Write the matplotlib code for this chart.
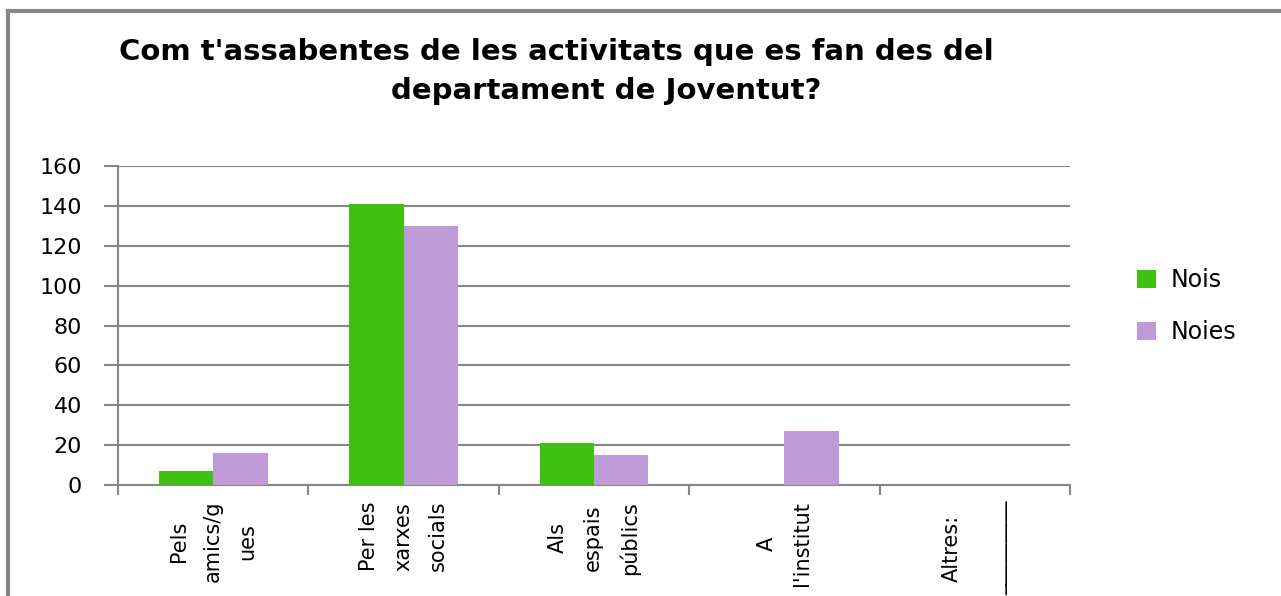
import matplotlib
matplotlib.use("Agg")
import matplotlib.pyplot as plt
from matplotlib.lines import Line2D
import numpy as np

categories = ["Pels\namics/g\nues", "Per les\nxarxes\nsocials", "Als\nespais\npúblics",
              "A\nl'institut", "Altres:\n" + "_" * 9]
nois = [7, 141, 21, 0, 0]
noies = [16, 130, 15, 27, 0]
yticks = [0, 20, 40, 60, 80, 100, 120, 140, 160]
title1 = "Com t'assabentes de les activitats que es fan des del"
title2 = "departament de Joventut?"

W, H = 1281, 596
fig = plt.figure(figsize=(W / 100, H / 100), dpi=100)
fig.patch.set_facecolor("white")
ax = fig.add_axes([118 / W, 1 - 485 / H, (1070 - 118) / W, (485 - 166) / H])

green = "#3EC111"
purple = "#BE9BD6"
grey = "#868686"

x = np.arange(len(categories))
bw = 0.286
ax.bar(x - bw / 2, nois, bw, color=green, label="Nois", zorder=3)
ax.bar(x + bw / 2, noies, bw, color=purple, label="Noies", zorder=3)

ax.set_xlim(-0.5, len(categories) - 0.5)
ax.set_ylim(0, 160)
ax.set_yticks(yticks)
ax.yaxis.grid(True, color=grey, linewidth=1.5, zorder=0)
ax.set_axisbelow(True)
for s in ["top", "right"]:
    ax.spines[s].set_visible(False)
for s in ["left", "bottom"]:
    ax.spines[s].set_color(grey)
    ax.spines[s].set_linewidth(1.5)

ax.tick_params(axis="y", direction="out", length=10, color=grey, width=1.5,
               labelsize=16, pad=16, labelcolor="black")
ax.set_xticks(np.arange(len(categories) + 1) - 0.5)
ax.set_xticklabels([])
ax.tick_params(axis="x", direction="out", length=7, color=grey, width=1.5)

for xi, lab in zip(x, categories):
    ls = 2.6 if lab.startswith("Altres") else 1.9
    ax.text(xi, -8, lab, rotation=90, ha="center", va="top", multialignment="center",
            fontsize=15, linespacing=ls, transform=ax.transData,
            family="DejaVu Sans", clip_on=False)

for t in ax.get_yticklabels():
    t.set_family("DejaVu Sans")

fig.text(556 / W, 1 - 52 / H, title1, ha="center", va="center", fontsize=21,
         fontweight="bold", family="DejaVu Sans")
fig.text(606 / W, 1 - 91 / H, title2, ha="center", va="center", fontsize=21,
         fontweight="bold", family="DejaVu Sans")

leg = fig.legend(loc="center left", bbox_to_anchor=(1116 / W, 1 - 306 / H), frameon=False,
                 fontsize=17, handlelength=0.8, handleheight=0.8, labelspacing=1.2,
                 handletextpad=0.6)

fig.add_artist(Line2D([8 / W, 8 / W], [0, 1 - 11 / H], color=grey, linewidth=3,
                      transform=fig.transFigure))
fig.add_artist(Line2D([8 / W, 1], [1 - 11 / H, 1 - 11 / H], color=grey, linewidth=3,
                      transform=fig.transFigure))

fig.savefig("out.png", dpi=100, facecolor="white")
